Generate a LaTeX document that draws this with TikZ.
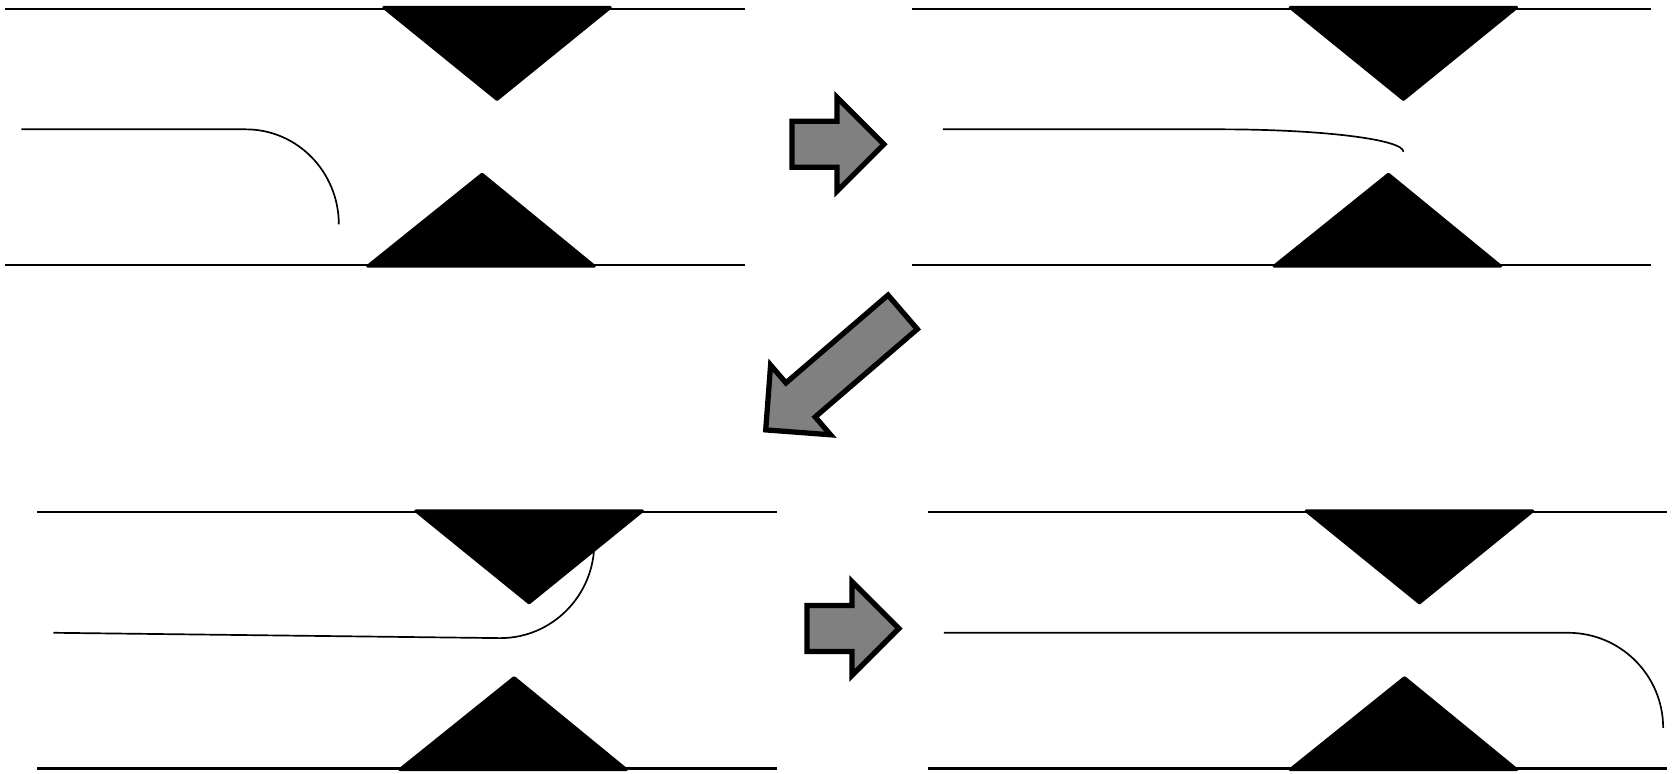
\documentclass[tikz,border=0pt]{standalone}
\usepackage{tikz}

\begin{document}
\begin{tikzpicture}[x=0.01cm, y=-0.01cm,
    rail/.style={line width=0.55pt},
    wedge/.style={fill=black, draw=black, line width=0.8pt, line join=round},
    strand/.style={line width=0.45pt},
    bigarrow/.style={fill=gray, draw=black, line width=1.4pt, line join=miter}
]
\useasboundingbox (0,0) rectangle (1568,724);

\foreach \dx/\dy in {0/0, 848/0, 30/471, 863/471} {
  \begin{scope}[shift={(\dx,\dy)}]
    \draw[rail] (5,8) -- (697,8);
    \draw[rail] (5,248) -- (697,248);
    \draw[wedge] (359,7) -- (571,7) -- (465,93) -- cycle;
    \draw[wedge] (344,249) -- (556,249) -- (451,163) -- cycle;
  \end{scope}
}

\draw[strand] (20,121) -- (230,121) arc[start angle=270, end angle=360, x radius=87, y radius=89];
\draw[strand] (882,121) -- (1142,121) arc[start angle=270, end angle=360, x radius=171, y radius=21];
\draw[strand] (50,592) -- (468,597) arc[start angle=90, end angle=0, x radius=88, y radius=89];
\draw[strand] (883,592) -- (1467,592) arc[start angle=270, end angle=360, x radius=89, y radius=89];

\draw[bigarrow] (741,113.5) -- (783,113.5) -- (783,91) -- (827,135) -- (783,179) -- (783,156.5) -- (741,156.5) -- cycle;
\draw[bigarrow, shift={(844.5,292)}, rotate=220.7] (0,-21) -- (126,-21) -- (126,-43) -- (169,0) -- (126,43) -- (126,21) -- (0,21) -- cycle;
\draw[bigarrow] (755,566.5) -- (797,566.5) -- (797,544) -- (841,588) -- (797,632) -- (797,609.5) -- (755,609.5) -- cycle;
\end{tikzpicture}
\end{document}
